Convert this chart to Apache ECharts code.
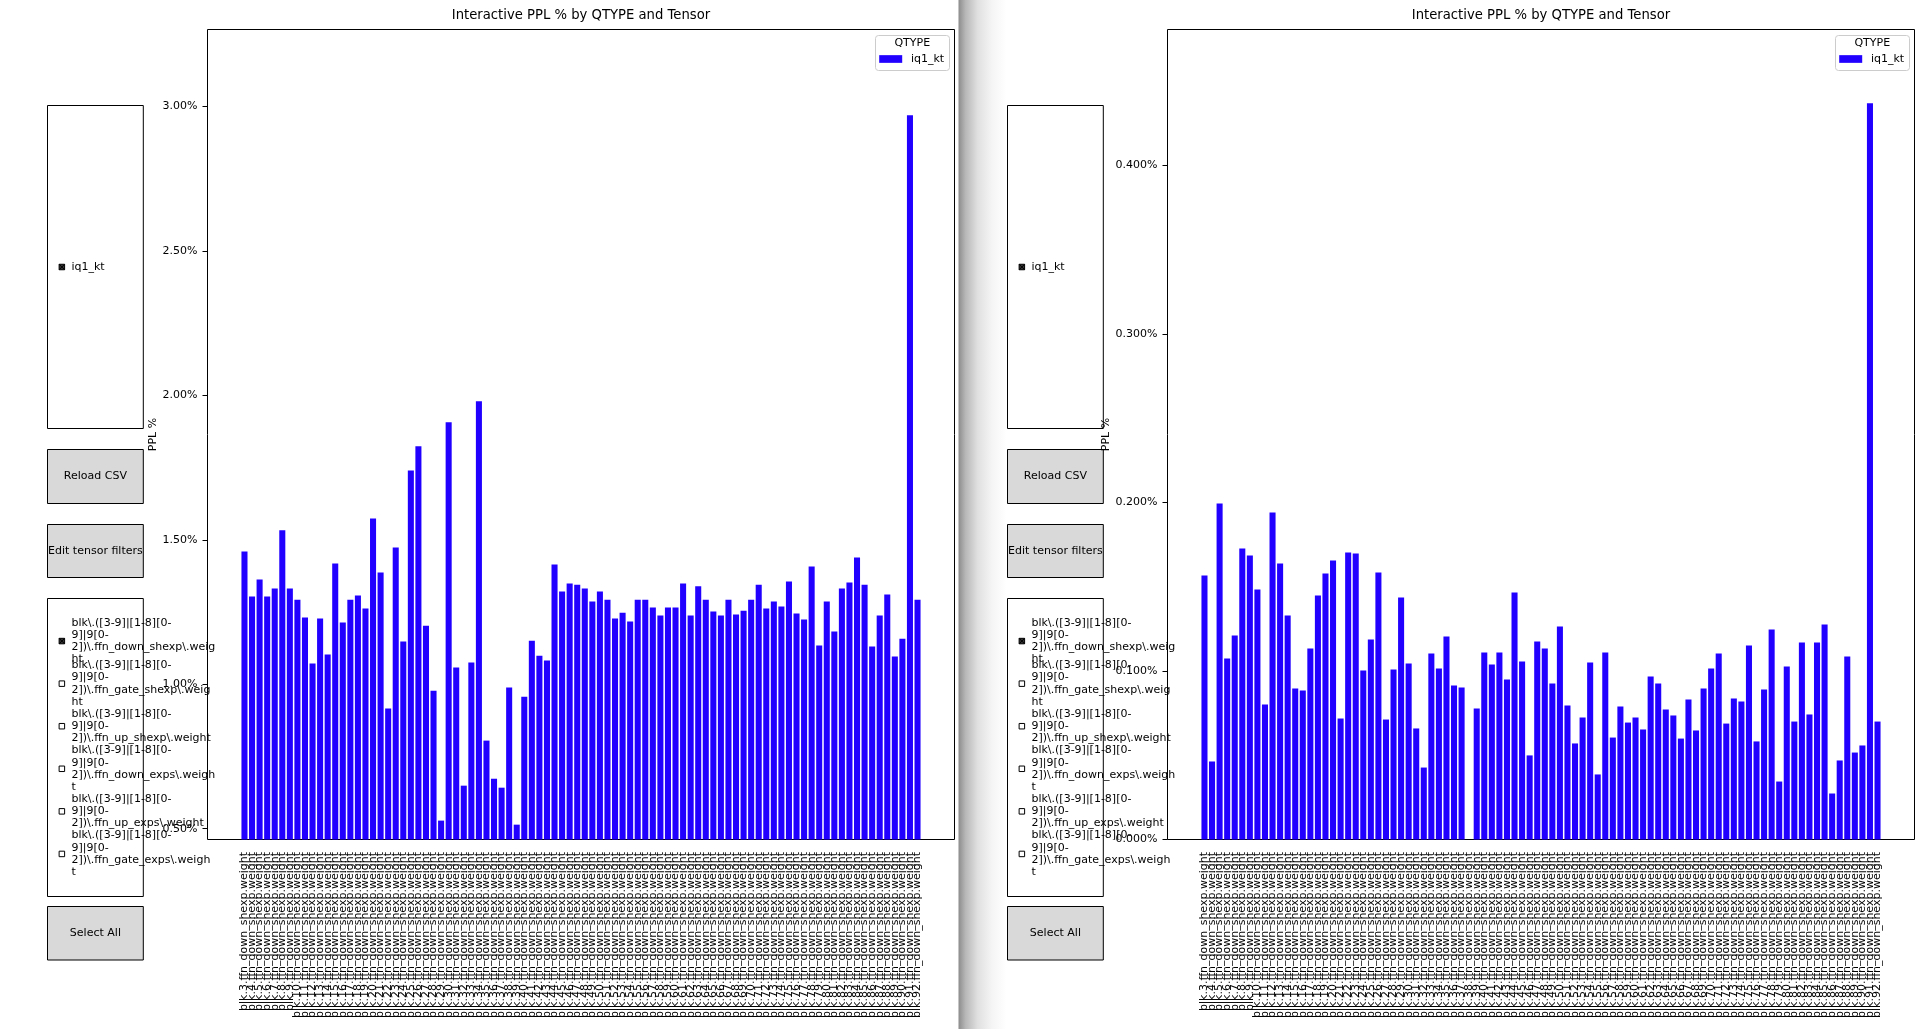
<!DOCTYPE html>
<html>
<head>
<meta charset="utf-8">
<title>Interactive PPL % by QTYPE and Tensor</title>
<script src="https://cdn.jsdelivr.net/npm/echarts@6/dist/echarts.min.js"></script>
<style>
  html, body { margin: 0; padding: 0; background: #fff; }
  #main { width: 1918px; height: 1029px; }
</style>
</head>
<body>
<div id="main"></div>
<script>
'use strict';

// blocks 3..92, one ffn_down_shexp tensor per block
var blockIds = [];
for (var b = 3; b <= 92; b++) blockIds.push(b);
var tensorNames = blockIds.map(function(id) { return 'blk.' + id + '.ffn_down_shexp.weight'; });

var qtypes = ['iq1_kt'];
var tensorFilters = [
  'blk\\.([3-9]|[1-8][0-9]|9[0-2])\\.ffn_down_shexp\\.weight',
  'blk\\.([3-9]|[1-8][0-9]|9[0-2])\\.ffn_gate_shexp\\.weight',
  'blk\\.([3-9]|[1-8][0-9]|9[0-2])\\.ffn_up_shexp\\.weight',
  'blk\\.([3-9]|[1-8][0-9]|9[0-2])\\.ffn_down_exps\\.weight',
  'blk\\.([3-9]|[1-8][0-9]|9[0-2])\\.ffn_up_exps\\.weight',
  'blk\\.([3-9]|[1-8][0-9]|9[0-2])\\.ffn_gate_exps\\.weight'
];
var filterChecked = [true, false, false, false, false, false];

// PPL % per tensor, left window
var pplRunA = [
  1.460, 1.304, 1.363, 1.304, 1.332, 1.533, 1.332, 1.293, 1.231, 1.072,
  1.228, 1.103, 1.418, 1.214, 1.293, 1.307, 1.262, 1.574, 1.387, 0.916,
  1.474, 1.148, 1.740, 1.824, 1.203, 0.978, 0.528, 1.907, 1.058, 0.649,
  1.075, 1.980, 0.805, 0.673, 0.642, 0.989, 0.514, 0.957, 1.151, 1.099,
  1.082, 1.415, 1.321, 1.349, 1.345, 1.332, 1.287, 1.321, 1.293, 1.228,
  1.248, 1.217, 1.293, 1.293, 1.266, 1.238, 1.266, 1.266, 1.349, 1.238,
  1.339, 1.293, 1.252, 1.238, 1.293, 1.242, 1.255, 1.293, 1.345, 1.262,
  1.287, 1.269, 1.356, 1.245, 1.224, 1.408, 1.134, 1.287, 1.183, 1.332,
  1.352, 1.439, 1.345, 1.131, 1.238, 1.311, 1.096, 1.158, 2.970, 1.293
];
// PPL % per tensor, right window
var pplRunB = [
  0.1567, 0.0463, 0.1994, 0.1074, 0.1211, 0.1727, 0.1685, 0.1484, 0.0801, 0.1941,
  0.1638, 0.1329, 0.0896, 0.0884, 0.1134, 0.1448, 0.1579, 0.1656, 0.0718, 0.1703,
  0.1697, 0.1003, 0.1187, 0.1585, 0.0712, 0.1009, 0.1436, 0.1045, 0.0659, 0.0427,
  0.1104, 0.1015, 0.1205, 0.0914, 0.0902, 0.0000, 0.0777, 0.1110, 0.1039, 0.1110,
  0.0950, 0.1466, 0.1056, 0.0499, 0.1175, 0.1134, 0.0926, 0.1264, 0.0795, 0.0570,
  0.0724, 0.1050, 0.0386, 0.1110, 0.0605, 0.0789, 0.0694, 0.0724, 0.0653, 0.0967,
  0.0926, 0.0772, 0.0736, 0.0599, 0.0831, 0.0647, 0.0896, 0.1015, 0.1104, 0.0688,
  0.0837, 0.0819, 0.1151, 0.0582, 0.0890, 0.1246, 0.0344, 0.1027, 0.0700, 0.1169,
  0.0742, 0.1169, 0.1276, 0.0273, 0.0469, 0.1086, 0.0516, 0.0558, 0.4370, 0.0700
];
var ticksRunA = [0.5, 1.0, 1.5, 2.0, 2.5, 3.0];
var ticksRunB = [0.0, 0.1, 0.2, 0.3, 0.4];

var FONT = 'DejaVu Sans';
var BAR_COLOR = '#2200ff';
var TITLE = 'Interactive PPL % by QTYPE and Tensor';

// axes box inside each window (window x offset added later)
var AX = { left: 207.5, right: 954.5, top: 29.5, bottom: 839.5 };

// textwrap-ish: break after hyphens, width 25, split long words
function wrapLabel(s, width) {
  var chunks = s.match(/[^-]*-|[^-]+$/g);
  var lines = [], cur = '';
  chunks.forEach(function(c) {
    if (cur.length + c.length <= width) { cur += c; return; }
    if (cur) lines.push(cur);
    cur = c;
    while (cur.length > width) {
      lines.push(cur.slice(0, width));
      cur = cur.slice(width);
    }
  });
  if (cur) lines.push(cur);
  return lines.join('\n');
}

function txt(x, y, text, align) {
  return {
    type: 'text', x: x, y: y, silent: true, z: 100,
    style: {
      text: text, fill: '#000', font: '11px "' + FONT + '"',
      fontSize: 11, fontFamily: FONT, lineHeight: 12.2,
      align: align || 'left', verticalAlign: 'middle'
    }
  };
}

function box(x, y, w, h, fill) {
  return {
    type: 'rect', silent: true,
    shape: { x: x, y: y, width: w, height: h },
    style: { fill: fill || 'none', stroke: '#000', lineWidth: 1 }
  };
}

function checkbox(cx, cy, checked) {
  var s = 2.75, out = [];
  out.push({
    type: 'rect', silent: true,
    shape: { x: cx - s, y: cy - s, width: 2 * s, height: 2 * s },
    style: { fill: checked ? '#333' : '#fff', stroke: '#000', lineWidth: 1 }
  });
  if (checked) {
    out.push({ type: 'line', silent: true, shape: { x1: cx - s, y1: cy - s, x2: cx + s, y2: cy + s }, style: { stroke: '#000', lineWidth: 1 } });
    out.push({ type: 'line', silent: true, shape: { x1: cx - s, y1: cy + s, x2: cx + s, y2: cy - s }, style: { stroke: '#000', lineWidth: 1 } });
  }
  return out;
}

// matplotlib CheckButtons: items at linspace(1,0,n+2)[1:-1]
function checkList(ox, y, h, labels, checked) {
  var x = ox + 47.5, w = 95.8, out = [box(x, y, w, h, '#fff')];
  labels.forEach(function(label, i) {
    var cy = y + h * (i + 1) / (labels.length + 1);
    out = out.concat(checkbox(x + 0.15 * w, cy, checked[i]));
    out.push(txt(x + 0.25 * w, cy, label));
  });
  return out;
}

function button(ox, y, h, label) {
  var x = ox + 47.5, w = 95.8;
  return [box(x, y, w, h, '#d9d9d9'), txt(x + w / 2, y + h / 2, label, 'center')];
}

function windowWidgets(ox) {
  var els = [];
  els = els.concat(checkList(ox, 105.5, 323, qtypes, [true]));
  els = els.concat(button(ox, 449.5, 54, 'Reload CSV'));
  els = els.concat(button(ox, 524.5, 53, 'Edit tensor filters'));
  els = els.concat(checkList(ox, 598.5, 298, tensorFilters.map(function(f) { return wrapLabel(f, 25); }), filterChecked));
  els = els.concat(button(ox, 906.5, 53.5, 'Select All'));
  // axes frame
  els.push(box(ox + AX.left, AX.top, AX.right - AX.left, AX.bottom - AX.top));
  // legend title, above the legend box
  els.push(txt(ox + 912.3, 43.5, 'QTYPE', 'center'));
  return els;
}

var panels = [
  { ox: 0, data: pplRunA, ticks: ticksRunA, digits: 2 },
  { ox: 960, data: pplRunB, ticks: ticksRunB, digits: 3 }
];

var option = {
  animation: false,
  textStyle: { fontFamily: FONT },
  title: [], legend: [], grid: [], xAxis: [], yAxis: [], series: [],
  graphic: { z: 50, elements: [] }
};

panels.forEach(function(p, k) {
  var n = p.data.length;
  // matplotlib bar xlim: bar edges +/- 5% margin
  var span = (n - 1) + 0.8;
  var xmin = -0.4 - 0.05 * span;
  var unit = (AX.right - AX.left) / (span * 1.1);
  var gridLeft = p.ox + AX.left + (-0.5 - xmin) * unit;
  var ymin = Math.min.apply(null, p.data) * 0.9;
  var ymax = Math.max.apply(null, p.data) * 1.1;

  option.title.push({
    text: TITLE, left: p.ox + (AX.left + AX.right) / 2, top: 9.5, textAlign: 'center', padding: 0,
    textStyle: { fontFamily: FONT, fontSize: 13.2, fontWeight: 'normal', color: '#000' }
  });
  option.legend.push({
    data: qtypes, left: p.ox + 875.5, top: 35.5, orient: 'vertical', z: 4,
    padding: [17.5, 5.4, 5.5, 3.7], itemWidth: 23, itemHeight: 7.7, icon: 'rect',
    borderColor: '#cccccc', borderWidth: 1, borderRadius: 3, backgroundColor: 'rgba(255,255,255,0.8)',
    selectedMode: false,
    textStyle: { fontFamily: FONT, fontSize: 11, color: '#000', lineHeight: 12, padding: [0, 0, 0, 3.7] }
  });
  option.grid.push({
    left: gridLeft, top: AX.top, width: n * unit, height: AX.bottom - AX.top,
    containLabel: false, outerBoundsMode: 'none'
  });
  option.xAxis.push({
    type: 'category', gridIndex: k, data: tensorNames, boundaryGap: true,
    axisLine: { show: false },
    axisTick: { alignWithLabel: true, length: 5.5, lineStyle: { color: '#000' } },
    axisLabel: { interval: 0, rotate: 90, margin: 12.5, fontSize: 11, color: '#000', fontFamily: FONT },
    splitLine: { show: false }
  });
  option.yAxis.push({
    type: 'value', gridIndex: k, min: ymin, max: ymax,
    offset: gridLeft - (p.ox + AX.left),
    name: 'PPL %', nameLocation: 'middle', nameRotate: 90, nameGap: k === 0 ? 49 : 56,
    nameTextStyle: { fontFamily: FONT, fontSize: 11, color: '#000' },
    axisLine: { show: false },
    axisTick: { show: true, length: 5, customValues: p.ticks, lineStyle: { color: '#000' } },
    axisLabel: {
      customValues: p.ticks, margin: 10, fontSize: 11, color: '#000', fontFamily: FONT,
      formatter: (function(d) { return function(v) { return v.toFixed(d) + '%'; }; })(p.digits)
    },
    splitLine: { show: false }
  });
  option.series.push({
    name: qtypes[0], type: 'bar', xAxisIndex: k, yAxisIndex: k,
    data: p.data, barCategoryGap: '20%',
    itemStyle: { color: BAR_COLOR }
  });
  option.graphic.elements = option.graphic.elements.concat(windowWidgets(p.ox));
});

// shadow of the right window's edge
option.graphic.elements.unshift({
  type: 'rect', silent: true, z: -1,
  shape: { x: 958.5, y: 0, width: 48, height: 1029 },
  style: {
    fill: {
      type: 'linear', x: 0, y: 0, x2: 1, y2: 0,
      colorStops: [
        { offset: 0, color: '#8c8c8c' },
        { offset: 0.15, color: '#b8b8b8' },
        { offset: 0.4, color: '#e0e0e0' },
        { offset: 0.7, color: '#f5f5f5' },
        { offset: 1, color: '#ffffff' }
      ]
    }
  }
});

var chart = echarts.init(document.getElementById('main'));
chart.setOption(option);
</script>
</body>
</html>
